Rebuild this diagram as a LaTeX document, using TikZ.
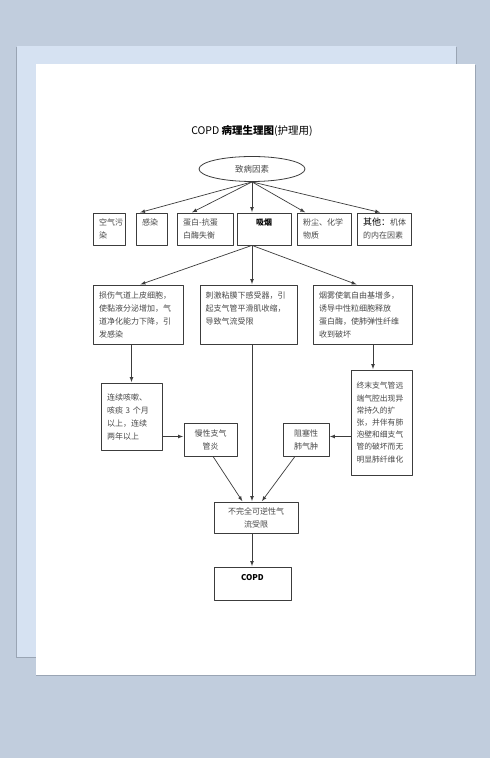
\documentclass[tikz,border=0pt]{standalone}
\usepackage{fontspec}
\setmainfont{Noto Sans CJK SC}
\usepackage{tikz}
\usetikzlibrary{arrows,shapes}

\definecolor{bgcol}{HTML}{C1CDDD}
\definecolor{backpage}{HTML}{D6E2F2}
\definecolor{shadowcol}{HTML}{9AA5B4}
\definecolor{textcol}{HTML}{484848}
\definecolor{linecol}{HTML}{3C3C3C}

\begin{document}
\begin{tikzpicture}[>=latex,line join=bevel,
  box/.style={draw=linecol, line width=0.8bp, inner xsep=6bp, inner ysep=0bp,
    align=left, text=textcol, font=\fontsize{8bp}{13bp}\selectfont},
  edge/.style={->, draw=linecol, line width=0.7bp, shorten >=0.5bp},
]
%% background and pages
  \fill [bgcol] (0bp,0bp) rectangle (490bp,758bp);
  \useasboundingbox (0bp,0bp) rectangle (490bp,758bp);
  \fill [shadowcol] (15.5bp,99.5bp) rectangle (457bp,711bp);
  \fill [backpage] (17bp,101bp) rectangle (456bp,712bp);
  \fill [shadowcol] (36bp,81.5bp) rectangle (476bp,693bp);
  \fill [white] (36bp,83bp) rectangle (475bp,694bp);
%%
  % Node: title
  \node (title) at (252bp,627bp) {\fontsize{10.5bp}{12bp}\selectfont COPD \textbf{病理生理图}(护理用)};
  % Node: cause
  \node [ellipse, draw=linecol, line width=0.8bp, minimum width=106bp, minimum height=25bp,
    inner sep=0bp, text=textcol, font=\fontsize{8.5bp}{10bp}\selectfont] (cause) at (252bp,589bp) {致病因素};
%
  % Nodes: first row
  \node [box, minimum width=32bp, minimum height=32bp, text width=20bp, inner xsep=6bp] (air) at (109bp,529bp) {空气污\\染};
  \node [box, minimum width=31bp, minimum height=32bp, text width=19bp] (infect) at (151.5bp,529bp) {感染\\\mbox{}};
  \node [box, minimum width=56bp, minimum height=32bp, text width=44bp] (protease) at (205bp,529bp) {蛋白-抗蛋\\白酶失衡};
  \node [box, minimum width=54bp, minimum height=32bp, text width=42bp, align=center, text=black] (smoke) at (264bp,529bp) {\textbf{吸烟}\\\mbox{}};
  \node [box, minimum width=52bp, minimum height=32bp, text width=42bp] (dust) at (324bp,529bp) {粉尘、化学\\物质};
  \node [box, minimum width=52bp, minimum height=32bp, text width=42bp] (other) at (384bp,529bp) {{\color{black}\fontsize{9bp}{13bp}\selectfont 其他：}机体\\的内在因素};
%
  % Nodes: second row
  \node [box, minimum width=90bp, minimum height=59bp, text width=78bp, inner xsep=6bp] (injury) at (138bp,443.5bp) {损伤气道上皮细胞，\\使黏液分泌增加，气\\道净化能力下降，引\\发感染};
  \node [box, minimum width=97bp, minimum height=59bp, text width=86bp, inner xsep=5.5bp] (stim) at (248.5bp,443.5bp) {刺激粘膜下感受器，引\\起支气管平滑肌收缩，\\导致气流受限\\\mbox{}};
  \node [box, minimum width=99bp, minimum height=59bp, text width=87bp] (oxid) at (362.5bp,443.5bp) {烟雾使氧自由基增多，\\诱导中性粒细胞释放\\蛋白酶，使肺弹性纤维\\收到破坏};
%
  % Nodes: third row
  \node [box, minimum width=61bp, minimum height=67bp, text width=49bp] (cough) at (131.5bp,341.5bp) {连续咳嗽、\\咳痰 3 个月\\以上，连续\\两年以上};
  \node [box, minimum width=53bp, minimum height=33bp, text width=41bp, align=center] (chronic) at (210.5bp,318.5bp) {慢性支气\\管炎};
  \node [box, minimum width=46bp, minimum height=33bp, text width=34bp, align=center] (emph) at (306bp,318.5bp) {阻塞性\\肺气肿};
  \node [box, minimum width=61bp, minimum height=105bp, text width=50bp, inner xsep=5.5bp,
    font=\fontsize{7.8bp}{12.2bp}\selectfont] (terminal) at (381.5bp,335.5bp) {终末支气管远\\端气腔出现异\\常持久的扩\\张，并伴有肺\\泡壁和细支气\\管的破坏而无\\明显肺纤维化};
  \coordinate (termin) at ([xshift=-8.5bp]terminal.north);
%
  % Nodes: bottom
  \node [box, minimum width=84bp, minimum height=31bp, text width=72bp, align=center] (limit) at (256bp,240.5bp) {不完全可逆性气\\流受限};
  \node [box, minimum width=77bp, minimum height=33bp, text width=65bp, align=center, text=black] (copd) at (252.5bp,174.5bp) {\textbf{COPD}\\\mbox{}};
%%
  % Edge: cause -> first row
  \draw [edge] (cause.south) -- ([xshift=4bp]infect.north west);
  \draw [edge] (cause.south) -- ([xshift=15bp]protease.north west);
  \draw [edge] (cause.south) -- (cause.south |- smoke.north);
  \draw [edge] (cause.south) -- ([xshift=9bp]dust.north west);
  \draw [edge] (cause.south) -- ([xshift=24bp]other.north west);
  % Edge: smoke -> second row
  \draw [edge] (cause.south |- smoke.south) -- ([xshift=2bp]injury.north);
  \draw [edge] (cause.south |- smoke.south) -- (cause.south |- stim.north);
  \draw [edge] (cause.south |- smoke.south) -- ([xshift=-5.5bp]oxid.north);
  % Edge: second row -> third row
  \draw [edge] (injury.south -| cough.north) -- (cough.north);
  \draw [edge] (oxid.south -| termin) -- (termin);
  \draw [edge] (cause.south |- stim.south) -- (cause.south |- limit.north);
  % Edge: cough -> chronic, terminal -> emph
  \draw [edge] ([yshift=3bp]cough.east |- chronic.west) -- ([yshift=3bp]chronic.west);
  \draw [edge] ([yshift=3bp]terminal.west |- emph.east) -- ([yshift=3bp]emph.east);
  % Edge: chronic -> limit, emph -> limit
  \draw [edge] ([xshift=2.5bp]chronic.south) -- ([xshift=29bp]limit.north west);
  \draw [edge] ([xshift=-11bp]emph.south) -- ([xshift=48bp]limit.north west);
  % Edge: limit -> copd
  \draw [edge] (cause.south |- limit.south) -- (cause.south |- copd.north);
%
\end{tikzpicture}
\end{document}
